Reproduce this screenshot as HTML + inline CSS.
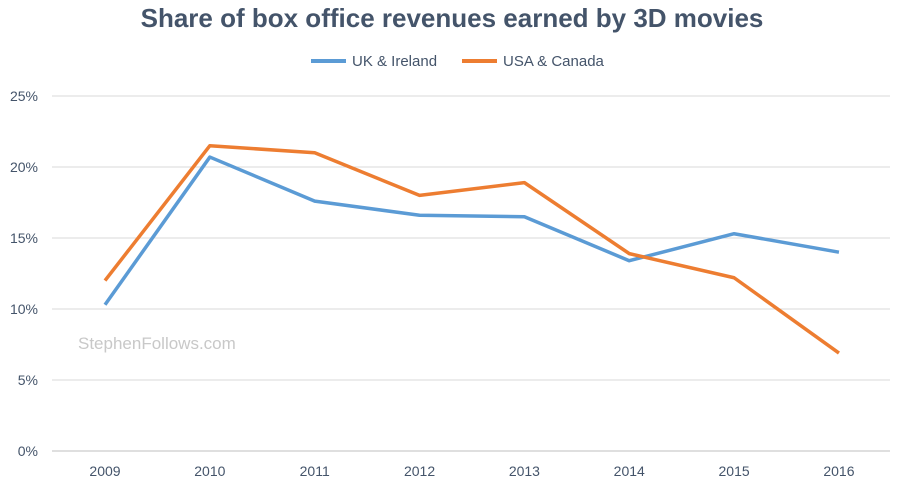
<!DOCTYPE html>
<html><head><meta charset="utf-8"><style>
body{margin:0;background:#fff;font-family:"Liberation Sans",sans-serif}
</style></head><body>
<svg id="chart" width="900" height="491">
<text x="452" y="27" text-anchor="middle" font-size="26" font-weight="bold" fill="#44546a">Share of box office revenues earned by 3D movies</text>
<g>
<g><line x1="311" y1="61" x2="346" y2="61" stroke="#5b9bd5" stroke-width="4"/><text x="352" y="66" font-size="15" fill="#44546a">UK &amp; Ireland</text></g>
<g><line x1="462" y1="61" x2="497" y2="61" stroke="#ed7d31" stroke-width="4"/><text x="503" y="66" font-size="15" fill="#44546a">USA &amp; Canada</text></g>
</g>
<text x="78" y="349" font-size="17" fill="#c8c8c8">StephenFollows.com</text>
<g id="grid"></g><g id="axes"></g><g id="series"></g>
</svg>
<script>
const years=["2009","2010","2011","2012","2013","2014","2015","2016"];
const ukValues=[10.3,20.7,17.6,16.6,16.5,13.4,15.3,14.0];
const usaValues=[12.0,21.5,21.0,18.0,18.9,13.9,12.2,6.9];
const yTicks=[0,5,10,15,20,25];
const NS="http://www.w3.org/2000/svg";
const x=i=>105+i*104.85;
const y=v=>451-v*14.2;
function mk(t,a,p){const e=document.createElementNS(NS,t);for(const k in a)e.setAttribute(k,a[k]);p.appendChild(e);return e;}
const grid=document.getElementById('grid'),axes=document.getElementById('axes'),ser=document.getElementById('series');
yTicks.forEach(v=>{
const l=mk('line',{x1:52,x2:890,y1:y(v),y2:y(v),stroke:v===0?'#bfbfbf':'#d9d9d9','stroke-width':1},grid);


const t=mk('text',{x:38,y:y(v)+5,'text-anchor':'end','font-size':14,fill:'#44546a'},axes);
t.textContent=v+'%';


});
years.forEach((yr,i)=>{
const t=mk('text',{x:x(i),y:476,'text-anchor':'middle','font-size':14,fill:'#44546a'},axes);
t.textContent=yr;


});
function line(vals,color,name){
const p=mk('polyline',{points:vals.map((v,i)=>x(i)+','+y(v)).join(' '),fill:'none',stroke:color,'stroke-width':3.5,'stroke-linejoin':'round'},ser);


}
line(ukValues,'#5b9bd5','uk-ireland-line');
line(usaValues,'#ed7d31','usa-canada-line');
</script>
</body></html>
